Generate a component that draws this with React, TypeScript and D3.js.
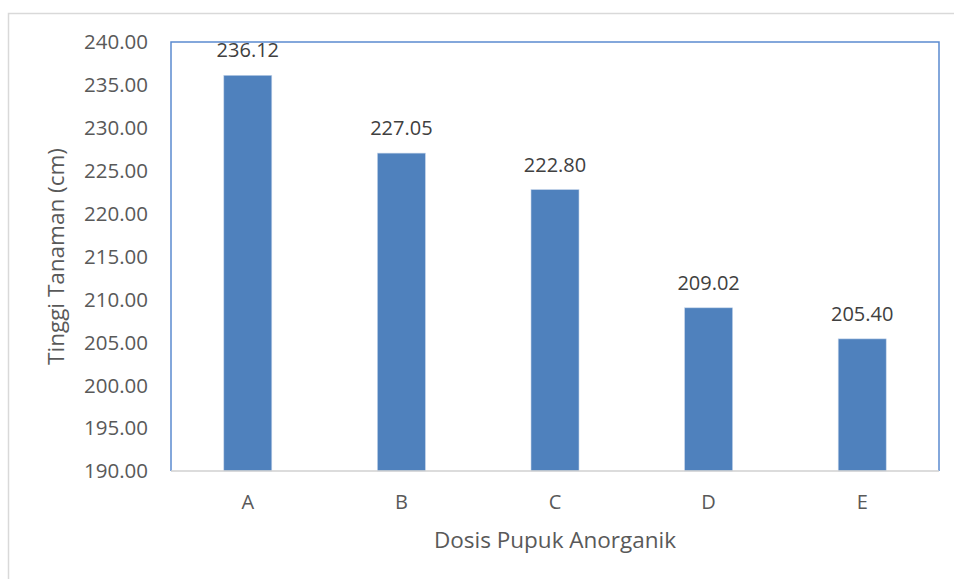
import { useEffect, useRef } from "react";
import * as d3 from "d3";

const categories = ["A", "B", "C", "D", "E"];
const values = [236.12, 227.05, 222.8, 209.02, 205.4];
const yTicks = [190, 195, 200, 205, 210, 215, 220, 225, 230, 235, 240];

const xTitle = "Dosis Pupuk Anorganik";
const yTitle = "Tinggi Tanaman (cm)";

export default function App() {
  const svgRef = useRef<SVGSVGElement | null>(null);
  const width = 954;
  const height = 579;

  useEffect(() => {
    if (!svgRef.current) return;
    const svg = d3.select(svgRef.current);
    svg.selectAll("*").remove();

    const font = "'Open Sans', 'Noto Sans', sans-serif";
    const left = 171;
    const right = 939;
    const top = 42;
    const bottom = 471;

    // outer chart frame
    svg
      .append("rect")
      .attr("x", 8.5)
      .attr("y", 13.5)
      .attr("width", width + 10)
      .attr("height", height + 10)
      .attr("fill", "#fff")
      .attr("stroke", "#d9d9d9")
      .attr("stroke-width", 1.5);

    const x = d3.scaleBand().domain(categories).range([left, right]).paddingInner(0).paddingOuter(0);
    const y = d3.scaleLinear().domain([190, 240]).range([bottom, top]);
    const barW = x.bandwidth() / 3.2;

    // plot area border (blue)
    svg
      .append("path")
      .attr("d", `M${left},${bottom} V${top} H${right} V${bottom}`)
      .attr("fill", "none")
      .attr("stroke", "#5b8bd0")
      .attr("stroke-width", 1.5);

    // bars
    svg
      .selectAll("rect.bar")
      .data(values)
      .join("rect")
      .attr("class", "bar")
      .attr("x", (_, i) => x(categories[i])! + x.bandwidth() / 2 - barW / 2)
      .attr("y", (d) => y(d))
      .attr("width", barW)
      .attr("height", (d) => y(190) - y(d))
      .attr("fill", "#4f81bd")
      .attr("stroke", "#c5d5ea")
      .attr("stroke-width", 0.6);

    // x axis line
    svg
      .append("line")
      .attr("x1", left)
      .attr("x2", right)
      .attr("y1", bottom)
      .attr("y2", bottom)
      .attr("stroke", "#d0d0d0")
      .attr("stroke-width", 1.5);

    // data labels
    svg
      .selectAll("text.lbl")
      .data(values)
      .join("text")
      .attr("class", "lbl")
      .attr("x", (_, i) => x(categories[i])! + x.bandwidth() / 2)
      .attr("y", (d) => y(d) - 18)
      .attr("text-anchor", "middle")
      .attr("font-family", font)
      .attr("font-size", 20)
      .attr("fill", "#404040")
      .text((d) => d.toFixed(2));

    // y tick labels
    svg
      .selectAll("text.yt")
      .data(yTicks)
      .join("text")
      .attr("class", "yt")
      .attr("x", 148)
      .attr("y", (d) => y(d))
      .attr("dy", "0.36em")
      .attr("text-anchor", "end")
      .attr("font-family", font)
      .attr("font-size", 20.5)
      .attr("fill", "#595959")
      .text((d) => d.toFixed(2));

    // x category labels
    svg
      .selectAll("text.xt")
      .data(categories)
      .join("text")
      .attr("class", "xt")
      .attr("x", (d) => x(d)! + x.bandwidth() / 2)
      .attr("y", 509)
      .attr("text-anchor", "middle")
      .attr("font-family", font)
      .attr("font-size", 20)
      .attr("fill", "#595959")
      .text((d) => d);

    // axis titles
    svg
      .append("text")
      .attr("x", (left + right) / 2)
      .attr("y", 548)
      .attr("text-anchor", "middle")
      .attr("font-family", font)
      .attr("font-size", 22.5)
      .attr("fill", "#595959")
      .text(xTitle);

    svg
      .append("text")
      .attr("transform", `translate(64, ${(top + bottom) / 2}) rotate(-90)`)
      .attr("text-anchor", "middle")
      .attr("font-family", font)
      .attr("font-size", 22.5)
      .attr("fill", "#595959")
      .text(yTitle);
  }, []);

  return (
    <svg
      ref={svgRef}
      width={width}
      height={height}
      style={{ position: "absolute", left: 0, top: 0, background: "#fff" }}
    />
  );
}
